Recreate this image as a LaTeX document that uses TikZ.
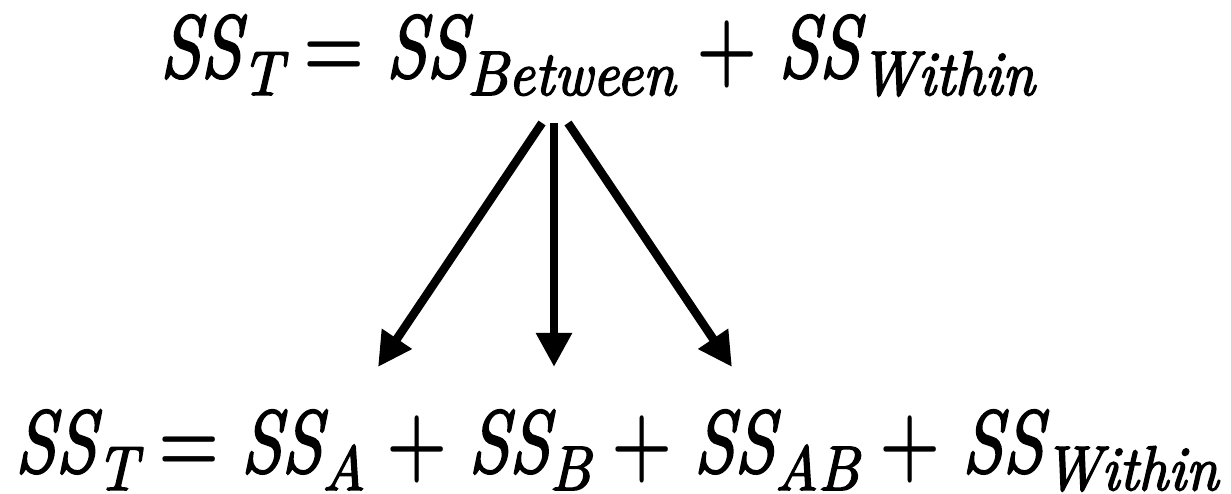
\documentclass[tikz,border=0pt]{standalone}
\usetikzlibrary{arrows.meta}
\usepackage{fontspec}
\newfontfamily\eqit{lmroman10-italic.otf}[FakeBold=2.5]
\newfontfamily\equp{lmroman10-bold.otf}
\newcommand{\SSx}{\scalebox{0.82}[1]{\fontsize{88}{100}\selectfont\eqit SS}}
\newcommand{\sbx}[1]{\raisebox{-18pt}{\scalebox{0.92}[1]{\fontsize{63}{63}\selectfont\eqit #1}}}
\newcommand{\opx}[1]{\hspace{21pt}\scalebox{0.78}[1]{\fontsize{88}{100}\selectfont\equp #1}\hspace{21pt}}
\begin{document}
\begin{tikzpicture}[x=1pt,y=1pt,
  eqn/.style={inner sep=0pt,anchor=base west},
  arr/.style={line width=8.5pt,-{Triangle[length=34pt,width=34pt]}}]
\useasboundingbox (0,0) rectangle (1231,494);
\node[eqn] (top) at (160,417) {\SSx\sbx{T}\opx{=}\SSx\sbx{Between}\opx{+}\SSx\sbx{Within}};
\node[eqn] (bot) at (15,22) {\SSx\sbx{T}\opx{=}\SSx\sbx{A}\opx{+}\SSx\sbx{B}\opx{+}\SSx\sbx{AB}\opx{+}\SSx\sbx{Within}};
\coordinate (s1) at (542,371);
\coordinate (s2) at (554,371);
\coordinate (s3) at (568,371);
\coordinate (e1) at (378,127);
\coordinate (e2) at (554,127);
\coordinate (e3) at (732,127);
\draw[arr] (s1) -- (e1);
\draw[arr] (s2) -- (e2);
\draw[arr] (s3) -- (e3);
\end{tikzpicture}
\end{document}
